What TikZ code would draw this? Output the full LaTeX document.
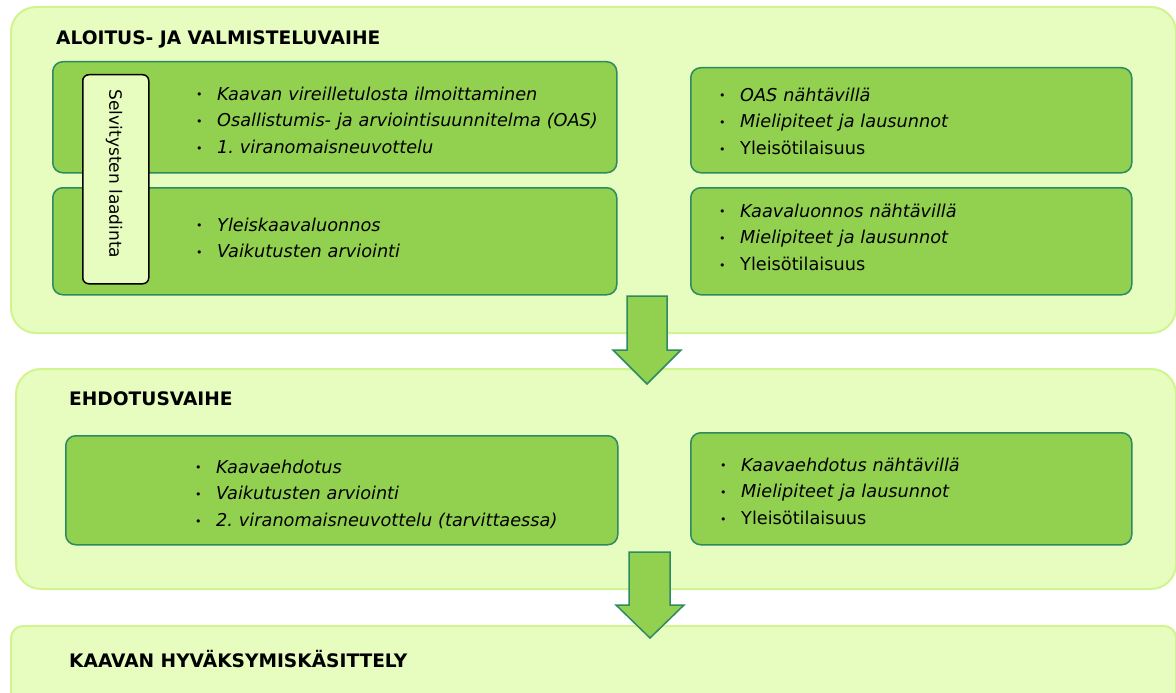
\documentclass[tikz,border=0pt]{standalone}
\usepackage{fontspec}
\setmainfont{DejaVu Sans}
\frenchspacing
\usetikzlibrary{calc}
\definecolor{vaihetausta}{RGB}{231,252,191}
\definecolor{vaiheraja}{RGB}{209,245,142}
\definecolor{vihrea}{RGB}{146,208,80}
\definecolor{tummaraja}{RGB}{46,138,96}
\def\kohta#1{\makebox[21pt][l]{\raisebox{1.2pt}{\fontsize{11}{11}\selectfont •}}{#1}}
\tikzset{
  vaihe/.style={draw=vaiheraja, fill=vaihetausta, line width=2pt, rounded corners=25pt, anchor=north west, inner sep=0pt},
  laatikko/.style={draw=tummaraja, fill=vihrea, line width=1.5pt, rounded corners=10pt, anchor=north west, inner sep=0pt},
  selvitys/.style={draw=black, fill=vaihetausta, line width=1.5pt, rounded corners=6pt, anchor=north west, inner sep=0pt},
  nuoli/.style={draw=tummaraja, fill=vihrea, line width=1.5pt},
  otsikko/.style={anchor=base west, inner sep=0pt, font=\fontsize{18.6}{20}\selectfont\bfseries},
  lista/.style={anchor=base west, inner sep=0pt, text width=420pt, align=left, font=\fontsize{17.7}{26.7}\selectfont}
}

\begin{document}
\begin{tikzpicture}[x=1pt, y=-1pt]
		%%%%% START %%%%%
		\clip (0,0) rectangle (1176,693);
		
		\node[vaihe, minimum width=1165, minimum height=326] (aloitus) at (10,6) {};
		\node[otsikko] (aloitusotsikko) at (56,45) {ALOITUS- JA VALMISTELUVAIHE};
		
		\node[laatikko, minimum width=564, minimum height=111] (oas) at (52,61) {};
		\node[laatikko, minimum width=564, minimum height=107] (luonnos) at (52,187) {};
		\node[laatikko, minimum width=441, minimum height=105] (oasnah) at (690,67) {};
		\node[laatikko, minimum width=441, minimum height=107] (luonnosnah) at (690,187) {};
		
		\node[lista] (oasteksti) at (196,100) {\kohta{\itshape Kaavan vireilletulosta ilmoittaminen}\\ \kohta{\itshape Osallistumis- ja arviointisuunnitelma (OAS)}\\ \kohta{\itshape 1. viranomaisneuvottelu}};
		\node[lista] (luonnosteksti) at (196,231) {\kohta{\itshape Yleiskaavaluonnos}\\ \kohta{\itshape Vaikutusten arviointi}};
		\node[lista] (oasnahteksti) at (719,101) {\kohta{\itshape OAS nähtävillä}\\ \kohta{\itshape Mielipiteet ja lausunnot}\\ \kohta{Yleisötilaisuus}};
		\node[lista] (luonnosnahteksti) at (719,217) {\kohta{\itshape Kaavaluonnos nähtävillä}\\ \kohta{\itshape Mielipiteet ja lausunnot}\\ \kohta{Yleisötilaisuus}};
		
		\node[selvitys, minimum width=66, minimum height=209] (selv) at (82,74) {};
		\node[rotate=-90, inner sep=0pt, font=\fontsize{17}{17}\selectfont] (selvteksti) at (114,174) {Selvitysten laadinta};
		
		\node[vaihe, minimum width=1160, minimum height=220] (ehdotus) at (15,368) {};
		\node[otsikko] (ehdotusotsikko) at (69,405) {EHDOTUSVAIHE};
		
		\node[laatikko, minimum width=552, minimum height=109] (ehd) at (65,435) {};
		\node[laatikko, minimum width=441, minimum height=112] (ehdnah) at (690,432) {};
		
		\node[lista] (ehdteksti) at (195,473) {\kohta{\itshape Kaavaehdotus}\\ \kohta{\itshape Vaikutusten arviointi}\\ \kohta{\itshape 2. viranomaisneuvottelu (tarvittaessa)}};
		\node[lista] (ehdnahteksti) at (720,471) {\kohta{\itshape Kaavaehdotus nähtävillä}\\ \kohta{\itshape Mielipiteet ja lausunnot}\\ \kohta{Yleisötilaisuus}};
		
		\node[vaihe, rounded corners=12pt, minimum width=1165, minimum height=110] (hyvaksyminen) at (10,625) {};
		\node[otsikko] (hyvaksymisotsikko) at (69,667) {KAAVAN HYVÄKSYMISKÄSITTELY};
		
		\draw[nuoli] (627,296) -- (667,296) -- (667,350) -- (681,350) -- (647,384) -- (613,350) -- (627,350) -- cycle;
		\draw[nuoli] (629,552) -- (670,552) -- (670,605) -- (684,605) -- (650,638) -- (616,605) -- (629,605) -- cycle;
		%%%%% END %%%%%
	\end{tikzpicture}
\end{document}
